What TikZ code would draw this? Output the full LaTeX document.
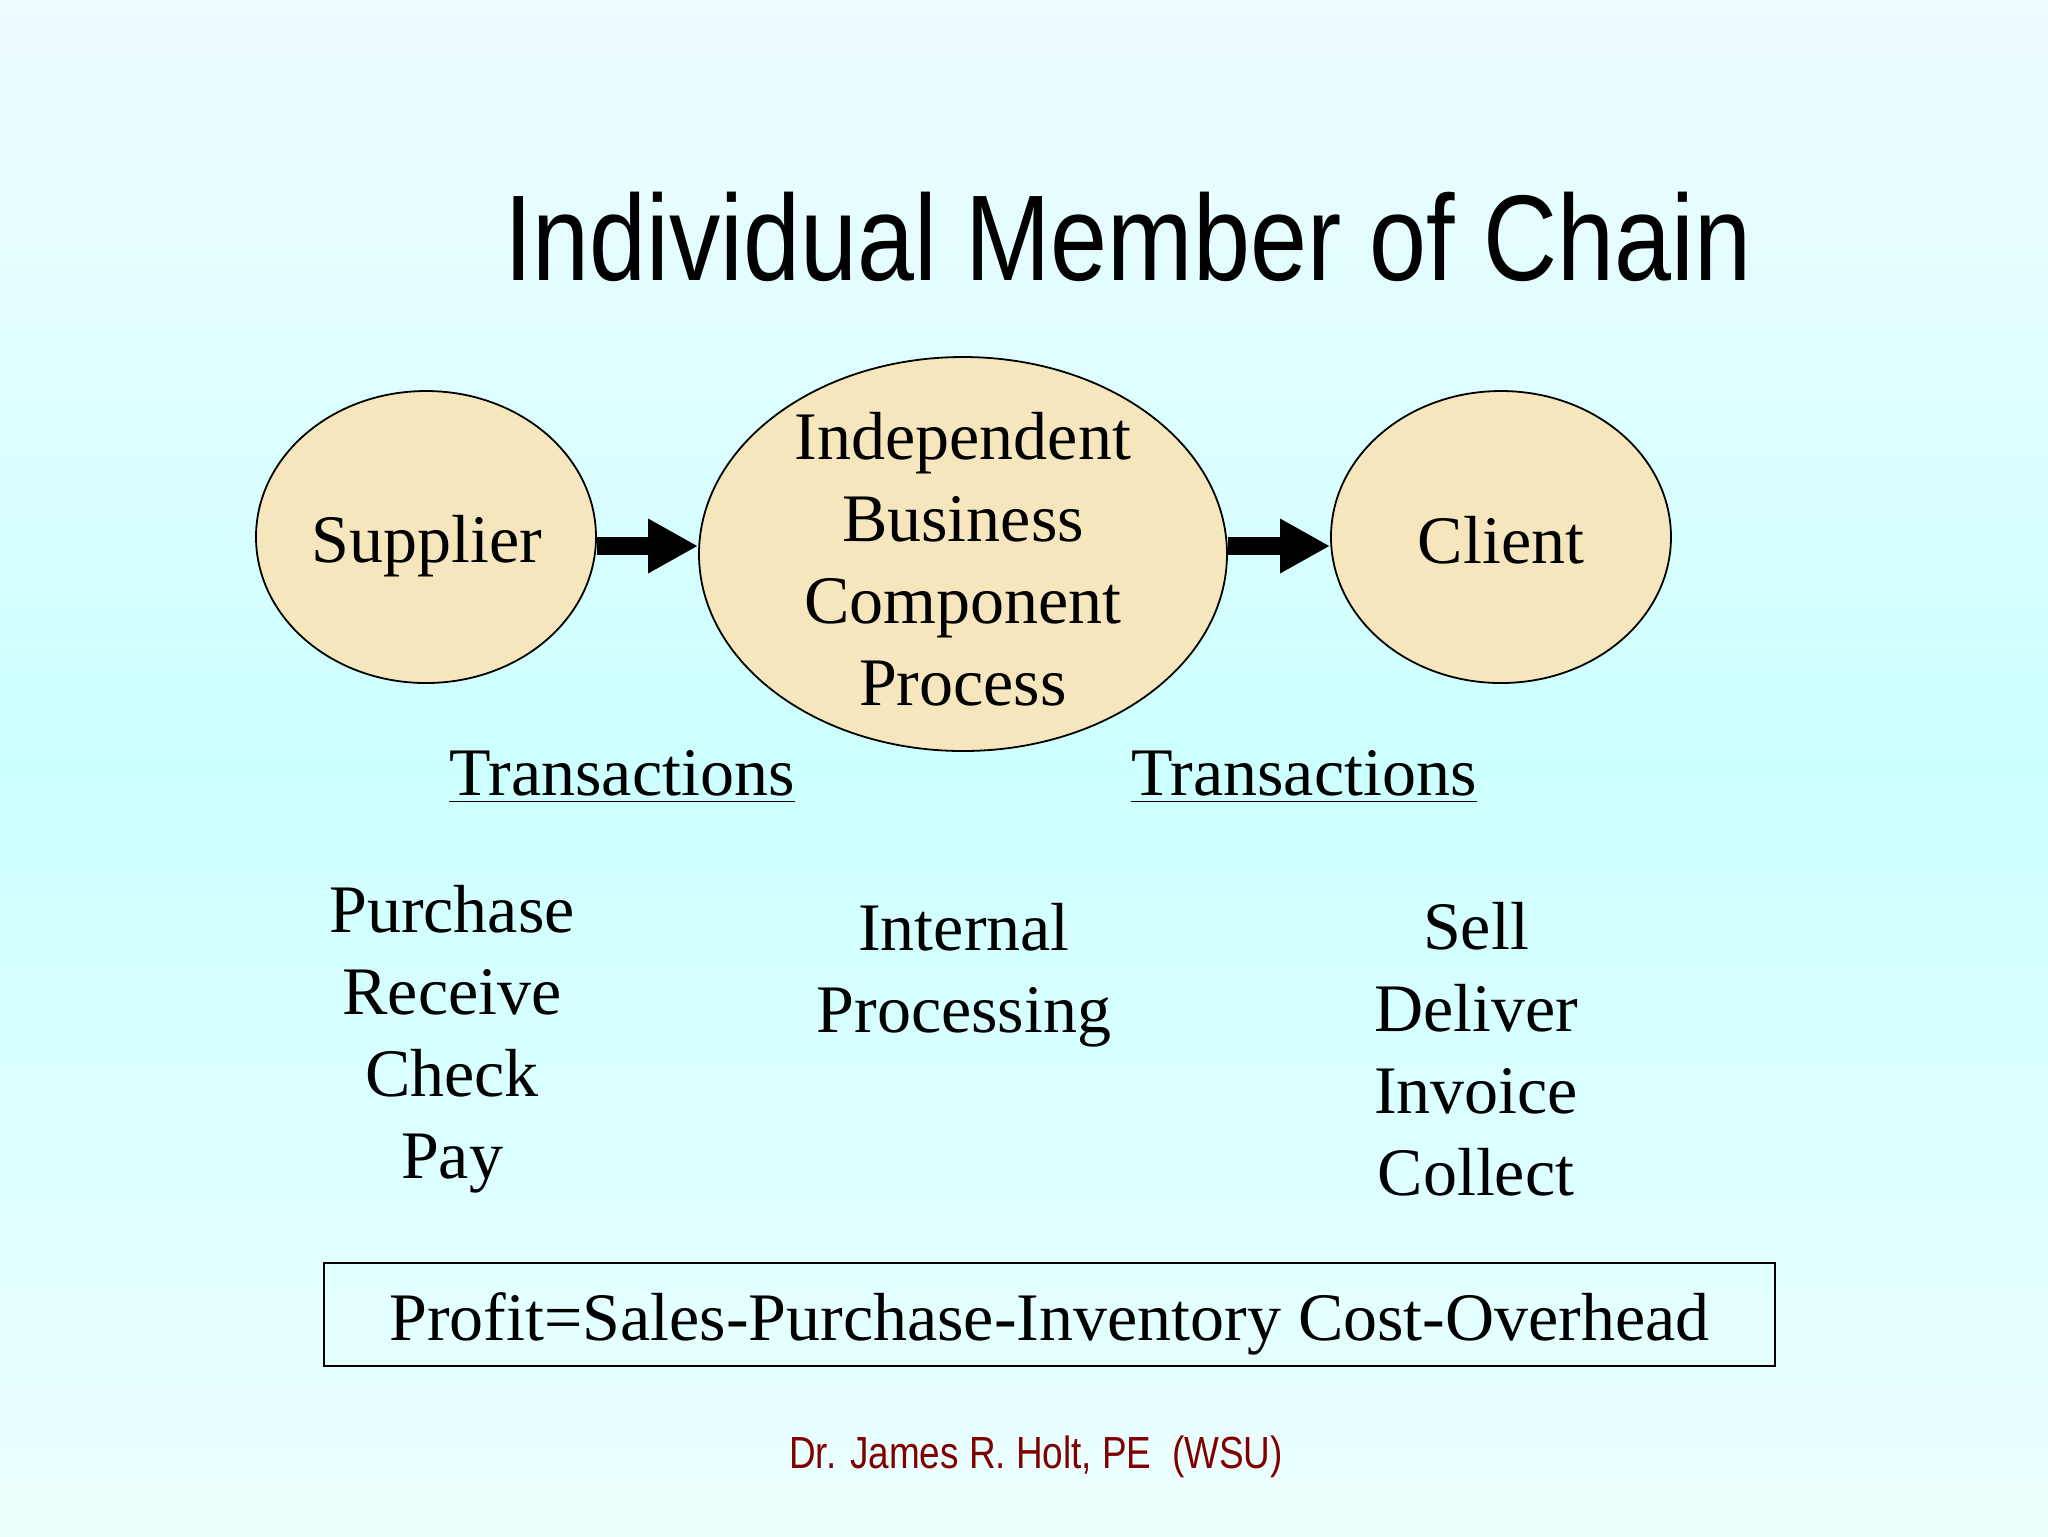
\documentclass[tikz,border=0pt]{standalone}
\usepackage{fontspec}
\setmainfont{Liberation Serif}
\newfontfamily\titlefont[FakeStretch=0.84]{Liberation Sans}
\newfontfamily\footfont[FakeStretch=0.82]{Liberation Sans}
\usetikzlibrary{shapes.geometric,arrows.meta}
\definecolor{bgtop}{HTML}{F0FCFF}
\definecolor{bgmid}{HTML}{CCFFFF}
\definecolor{bgbot}{HTML}{EDFFFF}
\definecolor{tan}{HTML}{F6E6BE}
\definecolor{footred}{HTML}{800000}
\tikzset{
  bubble/.style={ellipse, draw=black, line width=0.45pt, fill=tan, inner sep=0pt},
  bodytext/.style={align=center, inner sep=0pt, font=\fontsize{17}{20.5}\selectfont},
  bigarrow/.style={line width=4.5pt, -{Triangle[length=12.5pt,width=12.75pt]}},
}
\begin{document}
\begin{tikzpicture}[x=0.25pt,y=-0.25pt]
\shade[top color=bgtop, bottom color=bgbot, middle color=bgmid] (0,0) rectangle (2048,1536);
\useasboundingbox (0,0) rectangle (2048,1536);

\node[inner sep=0pt, font=\titlefont\fontsize{30.5}{36}\selectfont] (title) at (1128,237) {Individual Member of Chain};

\node[bubble, minimum width=85pt, minimum height=73pt] (sup) at (426,537) {};
\node[bodytext] (suptext) at (427,546) {Supplier};
\node[bubble, minimum width=132pt, minimum height=98.5pt] (ibc) at (963,554) {};
\node[bodytext] (ibctext) at (963,559) {Independent\\Business\\Component\\Process};
\node[bubble, minimum width=85pt, minimum height=73pt] (cli) at (1501,537) {};
\node[bodytext] (clitext) at (1501,540) {Client};

\coordinate (arry) at (0,546);
\draw[bigarrow] (sup.east |- arry) -- (ibc.west |- arry);
\draw[bigarrow] (ibc.east |- arry) -- (cli.west |- arry);

\node[bodytext] (trl) at (622,777) {\underline{Transactions}};
\node[bodytext] (trr) at (1304,777) {\underline{Transactions}};

\node[bodytext] (left) at (452,1039) {Purchase\\Receive\\Check\\Pay};
\node[bodytext] (mid) at (964,975) {Internal\\Processing};
\node[bodytext] (right) at (1476,1049) {Sell\\Deliver\\Invoice\\Collect};

\node[draw=black, line width=0.5pt, minimum width=362.75pt, minimum height=25.75pt, inner sep=0pt] (profit) at (1049.5,1314.5) {};
\node[bodytext] (profittext) at (1049.5,1323.5) {Profit=Sales-Purchase-Inventory Cost-Overhead};

\node[inner sep=0pt, text=footred, font=\footfont\fontsize{11.25}{13}\selectfont] (foot) at (1036,1457) {Dr. James R. Holt, PE\ \ (WSU)};
\end{tikzpicture}
\end{document}
